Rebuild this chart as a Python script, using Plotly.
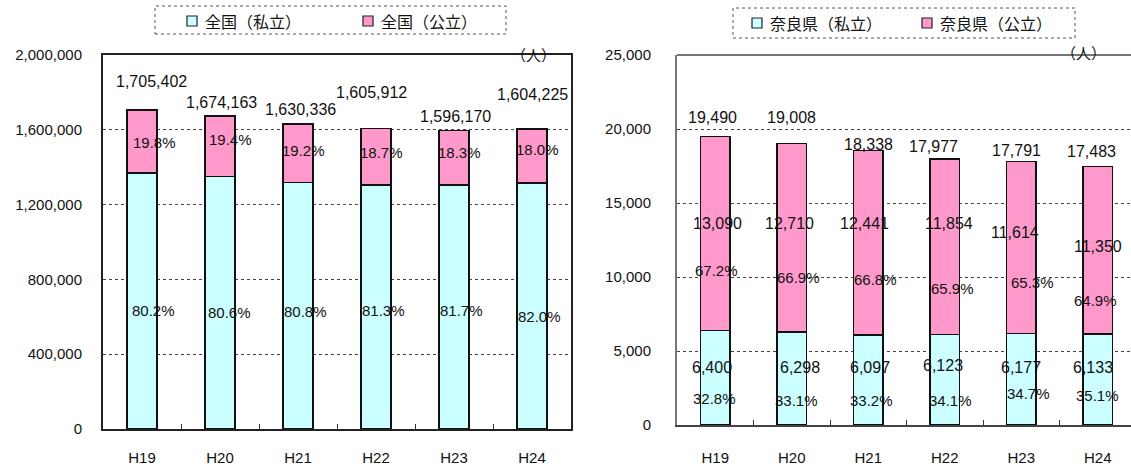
import plotly.graph_objects as go

# ---------------- data ----------------
years = ["H19", "H20", "H21", "H22", "H23", "H24"]

nat_private = [1367700, 1349400, 1317300, 1305600, 1304100, 1315500]
nat_public = [337700, 324800, 313000, 300300, 292100, 288800]
nat_total = [1705402, 1674163, 1630336, 1605912, 1596170, 1604225]
nat_private_pct = [80.2, 80.6, 80.8, 81.3, 81.7, 82.0]
nat_public_pct = [19.8, 19.4, 19.2, 18.7, 18.3, 18.0]

nara_private = [6400, 6298, 6097, 6123, 6177, 6133]
nara_public = [13090, 12710, 12441, 11854, 11614, 11350]
nara_total = [19490, 19008, 18338, 17977, 17791, 17483]
nara_private_pct = [32.8, 33.1, 33.2, 34.1, 34.7, 35.1]
nara_public_pct = [67.2, 66.9, 66.8, 65.9, 65.3, 64.9]

# ---------------- label placement (layout only) ----------------
nat_total_y = [1855800, 1743400, 1706000, 1797000, 1668600, 1786200]
nat_total_dx = [9, 1, 2, -5, 1, 0]
nat_pub_y = [1529500, 1545600, 1486700, 1476000, 1476000, 1492100]
nat_pub_dx = [12, 10, 5, 5, 5, 5]
nat_priv_y = [631100, 620400, 625700, 631100, 631100, 599000]
nat_priv_dx = [11, 9, 7, 7, 7, 7]

nara_total_y = [20744, 20744, 18950, 18784, 18514, 18447]
nara_total_dx = [-3, 0, 0, -11, -5, -6]
nara_pubv_y = [13582, 13582, 13582, 13582, 12973, 12027]
nara_pubv_dx = [2, -2, -4, 4, -6, 0]
nara_pubp_y = [10473, 10000, 9798, 9257, 9595, 8446]
nara_pubp_dx = [1, 7, 7, 8, 11, -2]
nara_privv_y = [3919, 3919, 3919, 3987, 3919, 3919]
nara_privv_dx = [-3, 8, 2, -2, 0, -5]
nara_privp_y = [1824, 1622, 1622, 1622, 2162, 2027]
nara_privp_dx = [-1, 5, 3, 6, 7, 0]

W, H = 1131, 469
CYAN = "#CCFFFF"
PINK = "#FF99CC"
NUMFONT = dict(family="Liberation Sans, Arial, sans-serif", size=16, color="#111")
PCTFONT = dict(family="Liberation Sans, Arial, sans-serif", size=15, color="#111")
TICKFONT = dict(family="Liberation Sans, Arial, sans-serif", size=15, color="#111")
JPFONT = dict(family="Noto Sans CJK JP, sans-serif", size=16, color="#111")
UNITFONT = dict(family="Noto Sans CJK JP, sans-serif", size=15, color="#111")


def px(x):
    return x / W


def py(y):
    return 1 - y / H


fig = go.Figure()

bar_line = dict(color="#111", width=1.5)
fig.add_trace(go.Bar(x=years, y=nat_private, marker=dict(color=CYAN, line=bar_line),
                     width=0.385, xaxis="x", yaxis="y", showlegend=False))
fig.add_trace(go.Bar(x=years, y=nat_public, marker=dict(color=PINK, line=bar_line),
                     width=0.385, xaxis="x", yaxis="y", showlegend=False))
fig.add_trace(go.Bar(x=years, y=nara_private, marker=dict(color=CYAN, line=bar_line),
                     width=0.39, xaxis="x2", yaxis="y2", showlegend=False))
fig.add_trace(go.Bar(x=years, y=nara_public, marker=dict(color=PINK, line=bar_line),
                     width=0.39, xaxis="x2", yaxis="y2", showlegend=False))

ann = []


def add_labels(texts, ys, dxs, xr, yr, font):
    for cat, t, yv, dx in zip(years, texts, ys, dxs):
        ann.append(dict(x=cat, y=yv, xref=xr, yref=yr, text=t, showarrow=False,
                        xshift=dx, font=font, xanchor="center", yanchor="middle"))


add_labels([f"{v:,}" for v in nat_total], nat_total_y, nat_total_dx, "x", "y", NUMFONT)
add_labels([f"{p:.1f}%" for p in nat_public_pct], nat_pub_y, nat_pub_dx, "x", "y", PCTFONT)
add_labels([f"{p:.1f}%" for p in nat_private_pct], nat_priv_y, nat_priv_dx, "x", "y", PCTFONT)

add_labels([f"{v:,}" for v in nara_total], nara_total_y, nara_total_dx, "x2", "y2", NUMFONT)
add_labels([f"{v:,}" for v in nara_public], nara_pubv_y, nara_pubv_dx, "x2", "y2", NUMFONT)
add_labels([f"{p:.1f}%" for p in nara_public_pct], nara_pubp_y, nara_pubp_dx, "x2", "y2", PCTFONT)
add_labels([f"{v:,}" for v in nara_private], nara_privv_y, nara_privv_dx, "x2", "y2", NUMFONT)
add_labels([f"{p:.1f}%" for p in nara_private_pct], nara_privp_y, nara_privp_dx, "x2", "y2", PCTFONT)

# legends (manual, dashed boxes)
shapes = []


def legend(box, items):
    x0, y0, x1, y1 = box
    shapes.append(dict(type="rect", xref="paper", yref="paper",
                       x0=px(x0), x1=px(x1), y0=py(y1), y1=py(y0),
                       line=dict(color="#555", width=1, dash="dot"), fillcolor="rgba(0,0,0,0)"))
    for sx, sy, color, text in items:
        shapes.append(dict(type="rect", xref="paper", yref="paper",
                           x0=px(sx), x1=px(sx + 10), y0=py(sy + 10), y1=py(sy),
                           line=dict(color="#222", width=1.2), fillcolor=color))
        ann.append(dict(x=px(sx + 16), y=py(sy + 5), xref="paper", yref="paper",
                        text=text, showarrow=False, xanchor="left", yanchor="middle",
                        font=JPFONT))


legend((155, 6, 506, 34), [(187, 16, CYAN, "全国（私立）"), (363, 16, PINK, "全国（公立）")])
legend((733, 8, 1075, 38), [(752, 18, CYAN, "奈良県（私立）"), (922, 18, PINK, "奈良県（公立）")])

ann.append(dict(x=px(533), y=py(42), xref="paper", yref="paper", text="（人）",
                showarrow=False, font=UNITFONT))
ann.append(dict(x=px(1108), y=py(40), xref="paper", yref="paper", text="（人）",
                showarrow=False, font=UNITFONT))

# top border of right chart
shapes.append(dict(type="line", xref="paper", yref="paper", x0=px(677), x1=1, y0=py(55), y1=py(55),
                   line=dict(color="#777", width=2)))

right_span = (W - 677) / 76.5

fig.update_layout(
    width=W, height=H,
    margin=dict(l=0, r=0, t=0, b=0),
    paper_bgcolor="white", plot_bgcolor="white",
    barmode="stack",
    showlegend=False,
    annotations=ann,
    shapes=shapes,
    xaxis=dict(domain=[px(103), px(571)], type="category", range=[-0.5, 5.5],
               automargin=False,
               showline=True, linecolor="#222", linewidth=2, mirror=True,
               ticks="inside", tickson="boundaries", ticklen=5, tickcolor="#333",
               tickfont=TICKFONT, ticklabelstandoff=14, showgrid=False),
    yaxis=dict(domain=[py(429), py(55)], range=[0, 2000000], dtick=400000,
               automargin=False,
               tickformat=",d", showline=True, linecolor="#222", linewidth=2, mirror=True,
               showgrid=True, gridcolor="#444", griddash="dot", gridwidth=1,
               zeroline=False, ticks="", tickfont=TICKFONT, ticklabelstandoff=16),
    xaxis2=dict(domain=[px(677), 1.0], type="category", range=[-0.5, -0.5 + right_span],
                anchor="y2", automargin=False,
                showline=True, linecolor="#444", linewidth=2,
                ticks="inside", tickson="boundaries", ticklen=5, tickcolor="#333",
                tickfont=TICKFONT, ticklabelstandoff=18, showgrid=False),
    yaxis2=dict(domain=[py(425), py(55)], range=[0, 25000], dtick=5000, anchor="x2",
                automargin=False,
                tickformat=",d", showline=True, linecolor="#777", linewidth=2,
                showgrid=True, gridcolor="#444", griddash="dot", gridwidth=1,
                zeroline=False, ticks="", tickfont=TICKFONT, ticklabelstandoff=21),
)

fig.write_html(
    "out.html",
    config={"displayModeBar": False},
    post_script="document.body.style.margin='0';document.body.style.overflow='hidden';",
)
